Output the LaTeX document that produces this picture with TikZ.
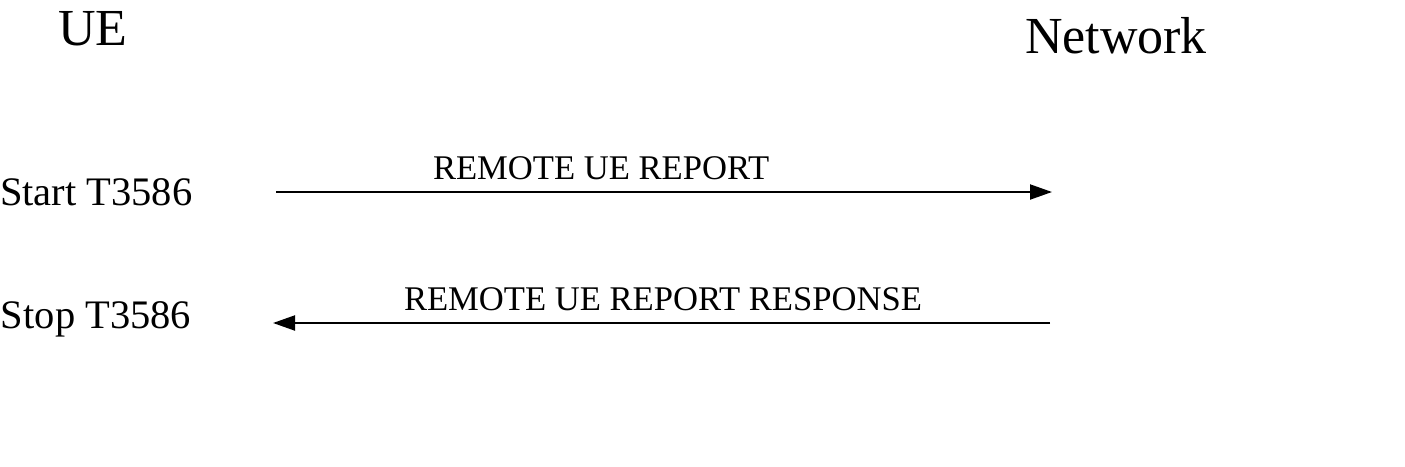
\documentclass[tikz,border=0pt]{standalone}
\usepackage{fontspec}
\setmainfont{Liberation Serif}
\usetikzlibrary{arrows.meta}
\begin{document}
\begin{tikzpicture}[x=1pt,y=-1pt,
  lbl/.style={anchor=base west,inner sep=0pt,outer sep=0pt},
  msg/.style={line width=2pt,-{Triangle[length=22pt,width=15pt]}}]
\useasboundingbox (0,0) rectangle (1405,466);
\node[lbl,font=\fontsize{52}{60}\selectfont] (ue) at (58,45) {UE};
\node[lbl,font=\fontsize{52}{60}\selectfont] (nw) at (1025,53) {Network};
\node[lbl,font=\fontsize{40.5}{48}\selectfont] (start) at (0,205.5) {Start T3586};
\node[lbl,font=\fontsize{40.5}{48}\selectfont] (stop) at (1,328) {Stop T3586};
\coordinate (a1s) at (276,192);
\coordinate (a1e) at (1052,192);
\coordinate (a2s) at (1050,323);
\coordinate (a2e) at (273,323);
\draw[msg] (a1s) -- (a1e);
\draw[msg] (a2s) -- (a2e);
\node[lbl,font=\fontsize{34.6}{40}\selectfont] (m1) at (433,179.5) {REMOTE UE REPORT};
\node[lbl,font=\fontsize{34.6}{40}\selectfont] (m2) at (404,310.5) {REMOTE UE REPORT RESPONSE};
\end{tikzpicture}
\end{document}
